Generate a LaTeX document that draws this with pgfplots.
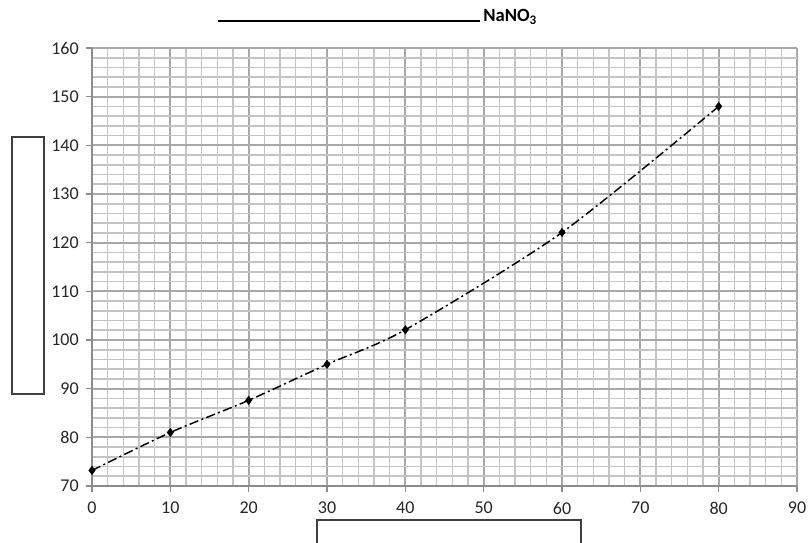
\documentclass[border=0pt]{standalone}
\usepackage{pgfplots}
\pgfplotsset{compat=1.18}
\usepackage{fontspec}
\setmainfont{Carlito}
\definecolor{majgrid}{HTML}{A8A8A8}
\definecolor{mingrid}{HTML}{C4C4C4}
\definecolor{axgray}{HTML}{8C8C8C}
\begin{document}
\begin{tikzpicture}[x=0.75pt,y=0.75pt]
\path[use as bounding box] (0,0) rectangle (812,542);
\begin{axis}[
  at={(92pt*0.75,56pt*0.75)}, anchor=origin, scale only axis,
  width=528.75pt, height=328.5pt,
  xmin=0, xmax=90, ymin=70, ymax=160,
  xtick={0,10,...,90}, ytick={70,80,...,160},
  minor x tick num=4, minor y tick num=4,
  grid=both,
  major grid style={draw=majgrid, line width=1.6pt},
  minor grid style={draw=mingrid, line width=1.2pt},
  axis x line*=bottom, axis y line*=left,
  axis line style={draw=axgray, line width=1.2pt, -},
  tick align=outside,
  major tick length=4.5pt, minor tick length=0pt,
  tick style={draw=axgray, line width=1pt},
  ticklabel style={font=\fontsize{13.5}{15}\selectfont, text=black!85},
  yticklabel style={xshift=-2pt},
  xticklabel style={yshift=-4pt},
  /pgf/number format/assume math mode=true,
  clip=false,
]
\addplot[black, line width=1.1pt, smooth, tension=0.45,
  dash pattern=on 7pt off 2.5pt on 1.5pt off 2.5pt,
  mark=diamond*, mark size=2.6pt, mark options={solid, fill=black}]
  coordinates {(0,73.2) (10,81) (20,87.6) (30,95) (40,102.1) (60,122.1) (80,148)};
\end{axis}
\draw[black, line width=1pt] (218,521) -- (480,521);
\node[anchor=base west, inner sep=0pt, font=\bfseries\fontsize{14}{16}\selectfont] at (483,520) {NaNO\textsubscript{3}};
\draw[black!75, line width=0.8pt] (12,148) rectangle (44,405);
\draw[black!75, line width=0.8pt] (317,-2) -- (317,22) -- (581,22) -- (581,-2);
\end{tikzpicture}
\end{document}
